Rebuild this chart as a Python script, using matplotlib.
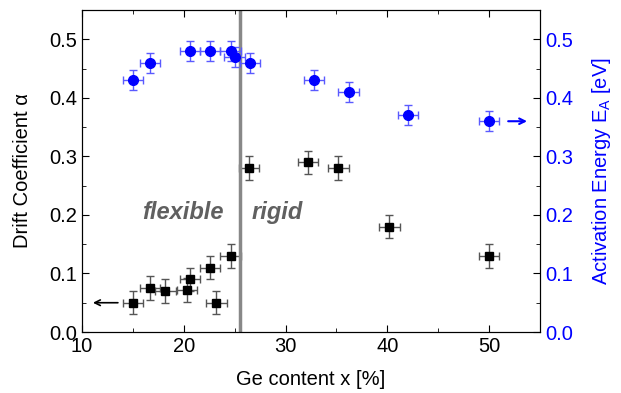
import matplotlib
matplotlib.use('Agg')
import matplotlib.pyplot as plt
from matplotlib.ticker import MultipleLocator

plt.rcParams['font.family'] = ['Liberation Sans', 'DejaVu Sans']

# drift coefficient (black squares, left axis)
ge_alpha = [15.0, 16.7, 18.2, 20.3, 20.6, 22.6, 23.2, 24.6, 26.4, 32.2, 35.2, 40.2, 50.0]
alpha = [0.05, 0.075, 0.07, 0.072, 0.09, 0.11, 0.05, 0.13, 0.28, 0.29, 0.28, 0.18, 0.13]
alpha_err = 0.02
ge_err = 1.0

# activation energy (blue circles, right axis)
ge_ea = [15.0, 16.7, 20.6, 22.6, 24.6, 25.0, 26.5, 32.8, 36.2, 42.0, 50.0]
ea = [0.43, 0.46, 0.48, 0.48, 0.48, 0.47, 0.46, 0.43, 0.41, 0.37, 0.36]
ea_err = 0.017

fig = plt.figure(figsize=(6.21, 3.93), dpi=100)
ax = fig.add_axes([82 / 621, 1 - 332 / 393, 458 / 621, 322 / 393])
ax2 = ax.twinx()

ax.errorbar(ge_alpha, alpha, xerr=ge_err, yerr=alpha_err, fmt='none',
            ecolor='#555555', elinewidth=1, capsize=3, capthick=1)
ax.plot(ge_alpha, alpha, 's', color='black', ms=6, zorder=3)

ax2.errorbar(ge_ea, ea, xerr=ge_err, yerr=ea_err, fmt='none',
             ecolor='#5a5aff', elinewidth=1, capsize=3, capthick=1)
ax2.plot(ge_ea, ea, 'o', color='#0000ff', ms=7, zorder=3)

ax.axvline(25.5, color='#888888', lw=2.5)
ax.text(23.9, 0.204, 'flexible', ha='right', va='center', fontsize=17,
        fontweight='bold', style='italic', color='#606060')
ax.text(26.7, 0.204, 'rigid', ha='left', va='center', fontsize=17,
        fontweight='bold', style='italic', color='#606060')

ax.annotate('', xy=(10.8, 0.05), xytext=(13.8, 0.05),
            arrowprops=dict(arrowstyle='->', color='black', lw=1.2))
ax2.annotate('', xy=(54.0, 0.36), xytext=(51.6, 0.36),
             arrowprops=dict(arrowstyle='->', color='#0000ff', lw=1.5))

ax.set_xlim(10, 55)
ax.set_ylim(0, 0.55)
ax2.set_ylim(0, 0.55)
ax.xaxis.set_major_locator(MultipleLocator(10))
ax.xaxis.set_minor_locator(MultipleLocator(5))
for a in (ax, ax2):
    a.yaxis.set_major_locator(MultipleLocator(0.1))
    a.yaxis.set_minor_locator(MultipleLocator(0.05))
    a.yaxis.set_major_formatter(plt.FormatStrFormatter('%.1f'))
ax.tick_params(which='both', direction='in', top=True, labelsize=14.5)
ax.tick_params(which='major', length=5)
ax.tick_params(which='minor', length=3)
ax2.tick_params(which='both', direction='in', labelsize=14.5, labelcolor='#0000ff')
ax2.tick_params(which='major', length=5)
ax2.tick_params(which='minor', length=3)

ax.set_xlabel('Ge content x [%]', fontsize=14.5, labelpad=10)
ax.set_ylabel('Drift Coefficient \u03b1', fontsize=14.5, labelpad=12)
ax2.set_ylabel(r'Activation Energy E$_\mathregular{A}$ [eV]', fontsize=14.5,
               color='#0000ff', labelpad=12)

fig.savefig('out.png', dpi=100)
